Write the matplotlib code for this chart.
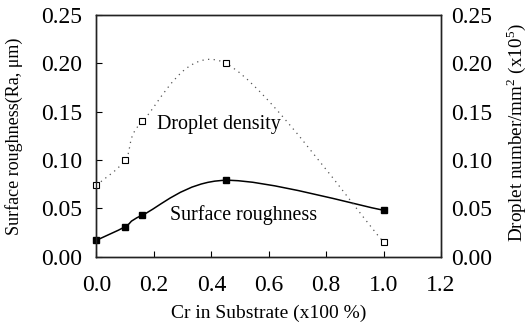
import matplotlib
matplotlib.use("Agg")
import matplotlib.pyplot as plt
from matplotlib.path import Path
from matplotlib.patches import PathPatch

plt.rcParams['font.family'] = ['Liberation Serif', 'DejaVu Serif']
plt.rcParams['mathtext.fontset'] = 'custom'
plt.rcParams['mathtext.rm'] = 'Liberation Serif'

cr = [0.0, 0.1, 0.16, 0.45, 1.0]
roughness = [0.017, 0.031, 0.043, 0.079, 0.048]
density = [0.074, 0.100, 0.140, 0.200, 0.015]
xticks = [0.0, 0.2, 0.4, 0.6, 0.8, 1.0, 1.2]
yticks = [0.00, 0.05, 0.10, 0.15, 0.20, 0.25]


def smooth_path(xs, ys):
    pts = list(zip(xs, ys))
    n = len(pts)
    verts = [pts[0]]
    codes = [Path.MOVETO]
    for i in range(n - 1):
        p0 = pts[i - 1] if i > 0 else pts[i]
        p1 = pts[i]
        p2 = pts[i + 1]
        p3 = pts[i + 2] if i + 2 < n else pts[i + 1]
        c1 = (p1[0] + (p2[0] - p0[0]) / 6, p1[1] + (p2[1] - p0[1]) / 6)
        c2 = (p2[0] - (p3[0] - p1[0]) / 6, p2[1] - (p3[1] - p1[1]) / 6)
        verts += [c1, c2, p2]
        codes += [Path.CURVE4] * 3
    return Path(verts, codes)


fig = plt.figure(figsize=(5.27, 3.28), dpi=100)
ax = fig.add_axes([0.183, 0.2174, 0.654, 0.737])

ax.add_patch(PathPatch(smooth_path(cr, roughness), facecolor='none',
                       edgecolor='black', lw=1.1))
ax.add_patch(PathPatch(smooth_path(cr, density), facecolor='none',
                       edgecolor='#555555', lw=0.9, linestyle=(0, (1, 3.5))))
ax.plot(cr, roughness, linestyle='none', marker='s', ms=4.3,
        mfc='black', mec='black', clip_on=False, zorder=5)
ax.plot(cr, density, linestyle='none', marker='s', ms=3.8,
        mfc='white', mec='black', mew=0.8, clip_on=False, zorder=5)

ax.set_xlim(0, 1.2)
ax.set_ylim(0, 0.25)
ax.set_xticks(xticks)
ax.set_xticklabels([f"{v:.1f}" for v in xticks])
ax.set_yticks(yticks)
ax.set_yticklabels([f"{v:.2f}" for v in yticks])
ax.tick_params(axis='x', direction='in', length=4, labelsize=17, pad=13)
ax.tick_params(axis='y', direction='in', length=4, labelsize=17, pad=10)

ax2 = ax.twinx()
ax2.set_ylim(0, 0.25)
ax2.set_yticks(yticks)
ax2.set_yticklabels([f"{v:.2f}" for v in yticks])
ax2.tick_params(axis='y', length=0, labelsize=17, pad=7)

for a in (ax, ax2):
    for s in a.spines.values():
        s.set_linewidth(1.0)
        s.set_color('#222222')

ax.set_xlabel("Cr in Substrate (x100 %)", fontsize=14)
ax.xaxis.set_label_coords(0.5, -0.2)

fig.text(14.5 / 527, 1 - 136 / 328, "Surface roughness(Ra, μm)", fontsize=13,
         rotation=90, ha='center', va='center')
fig.text(516 / 527, 1 - 133 / 328, r"Droplet number/mm$^2$ (x10$^5$)",
         fontsize=13.8, rotation=90, ha='center', va='center')

ax.text(0.21, 0.137, "Droplet density", fontsize=14.4, va='center', ha='left')
ax.text(0.256, 0.043, "Surface roughness", fontsize=14.4, va='center', ha='left')

fig.savefig("out.png", dpi=100)
